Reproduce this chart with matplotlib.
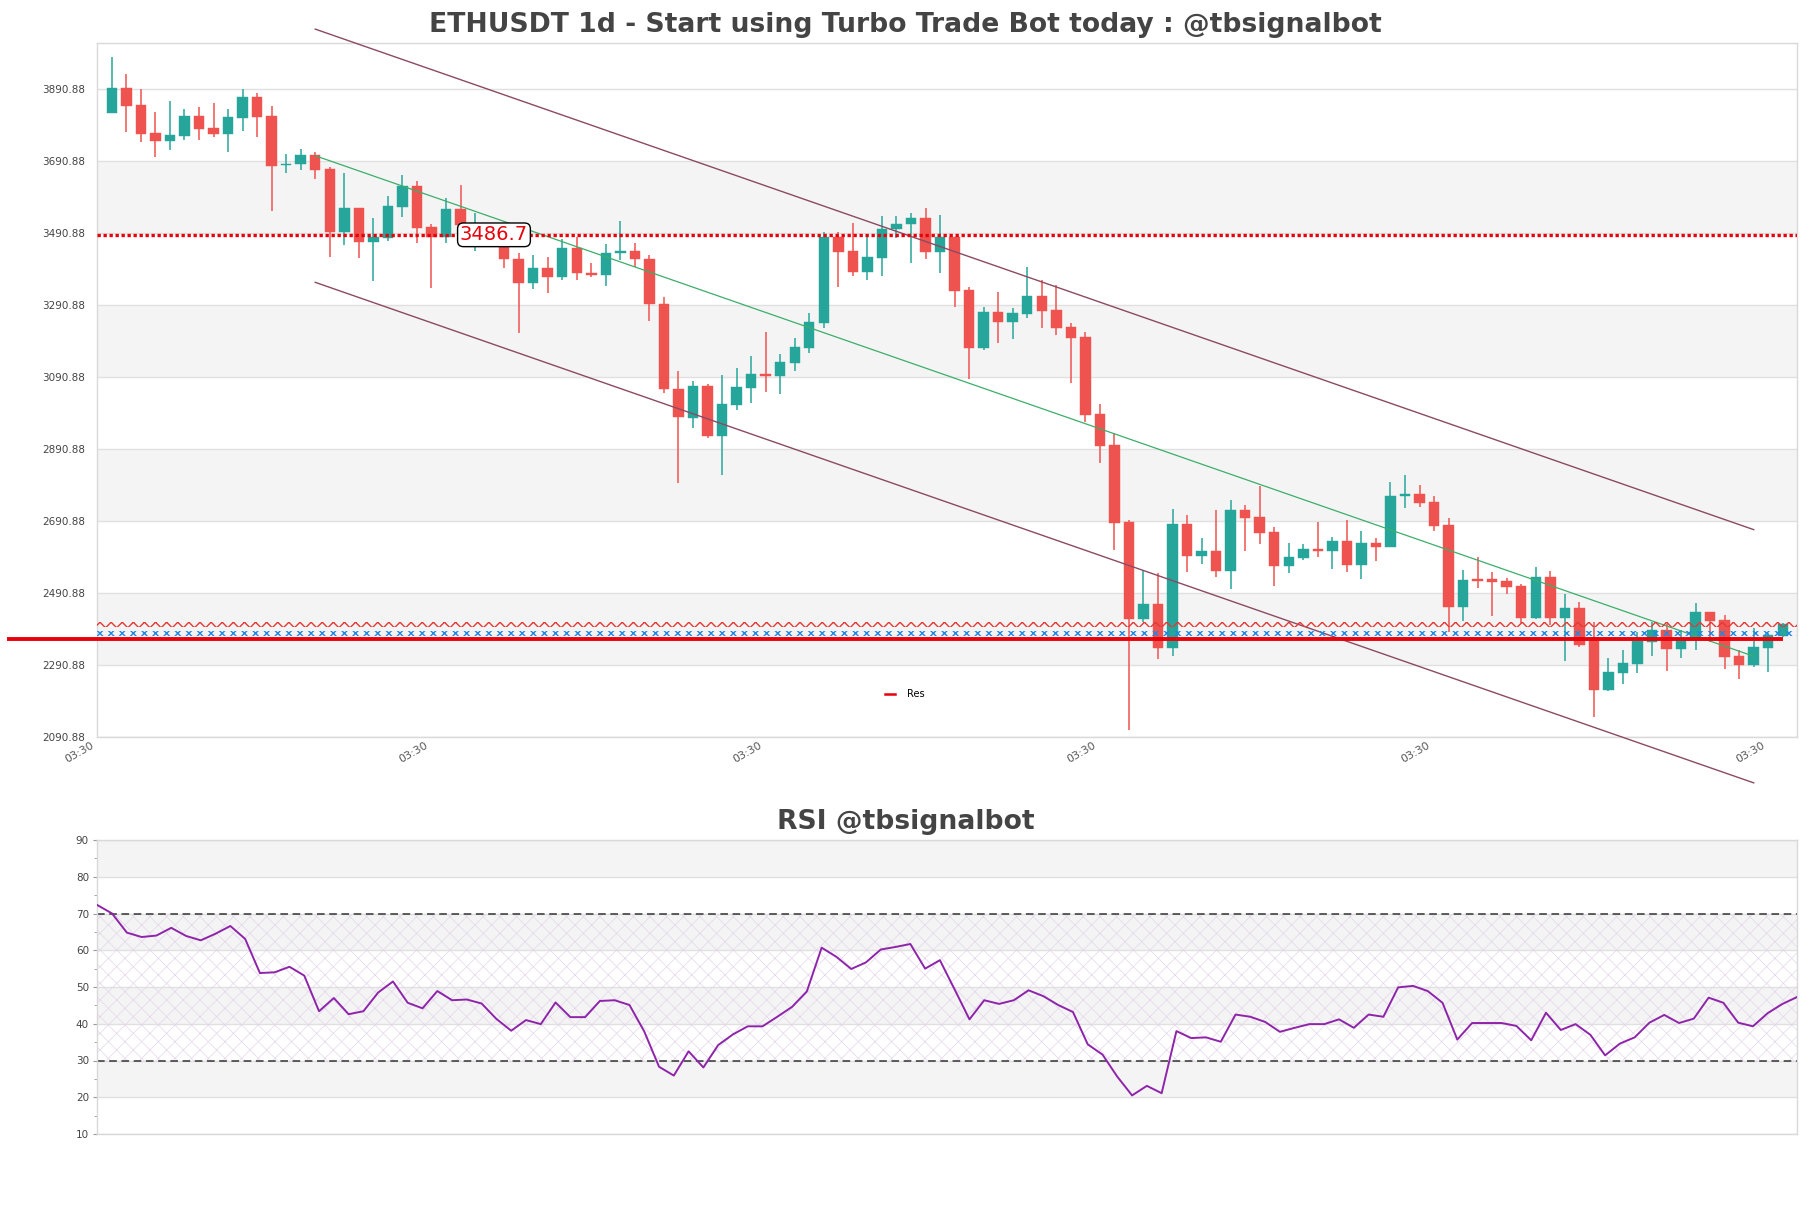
import matplotlib
matplotlib.use("Agg")
import matplotlib.pyplot as plt
from matplotlib.transforms import ScaledTranslation
from matplotlib.lines import Line2D
import numpy as np

# ---------------- data ----------------
opens = [3825.9, 3893.5, 3846.3, 3768.5, 3748.2, 3762.1, 3815.8, 3783.4, 3767.6, 3812.1,
         3868.5, 3815.8, 3679.5, 3682.4, 3707.4, 3669.5, 3495.4, 3560.2, 3467.6, 3478.7,
         3564.9, 3622.3, 3507.5, 3481.5, 3557.5, 3498.0, 3512.0, 3494.0, 3419.5, 3351.9,
         3394.5, 3368.6, 3450.9, 3380.6, 3376.0, 3435.2, 3441.7, 3419.5, 3294.5, 3057.5,
         2978.7, 3065.8, 2927.8, 3013.9, 3062.1, 3100.0, 3095.4, 3131.5, 3173.2, 3242.6,
         3479.6, 3441.7, 3384.3, 3423.2, 3501.9, 3515.8, 3532.4, 3438.0, 3479.6, 3333.3,
         3173.2, 3271.3, 3245.4, 3266.7, 3316.7, 3277.8, 3231.5, 3203.7, 2988.9, 2902.8,
         2688.0, 2418.6, 2461.2, 2339.9, 2683.4, 2595.4, 2608.4, 2553.8, 2722.3, 2703.8,
         2661.2, 2567.7, 2589.9, 2613.0, 2609.3, 2635.3, 2569.5, 2630.6, 2620.5, 2760.3,
         2766.8, 2743.6, 2680.6, 2453.8, 2529.7, 2529.7, 2525.1, 2511.2, 2423.2, 2537.1,
         2423.2, 2451.0, 2365.8, 2222.3, 2270.5, 2294.5, 2356.6, 2389.0, 2337.1, 2361.2,
         2438.0, 2416.7, 2316.7, 2291.7, 2339.9, 2373.2]
highs = [3981.5, 3932.4, 3890.8, 3826.9, 3857.4, 3835.2, 3840.8, 3852.8, 3835.2, 3890.8,
         3879.7, 3843.5, 3710.2, 3725.0, 3715.8, 3675.9, 3657.4, 3560.2, 3532.4, 3594.5,
         3652.8, 3636.2, 3516.7, 3588.0, 3625.0, 3546.0, 3516.0, 3500.0, 3435.2, 3430.6,
         3426.0, 3474.1, 3481.5, 3407.5, 3460.2, 3526.0, 3463.0, 3430.6, 3314.9, 3109.3,
         3080.6, 3072.3, 3097.2, 3115.8, 3150.0, 3215.8, 3155.6, 3199.1, 3268.5, 3493.5,
         3495.4, 3518.5, 3488.0, 3539.8, 3539.0, 3546.3, 3560.2, 3541.7, 3482.0, 3340.8,
         3287.0, 3327.8, 3284.3, 3396.3, 3361.1, 3347.2, 3240.7, 3217.6, 3016.7, 2935.2,
         2694.5, 2555.6, 2548.2, 2724.1, 2708.4, 2643.6, 2722.3, 2750.1, 2736.2, 2789.0,
         2676.0, 2629.7, 2627.8, 2688.0, 2648.2, 2694.5, 2664.0, 2643.6, 2799.2, 2819.5,
         2791.8, 2761.2, 2699.2, 2555.6, 2592.7, 2551.0, 2532.5, 2516.8, 2564.9, 2553.8,
         2489.0, 2467.7, 2410.3, 2310.2, 2333.4, 2384.4, 2412.0, 2405.0, 2389.0, 2464.9,
         2440.0, 2430.6, 2333.4, 2393.6, 2380.0, 2407.0]
lows = [3824.1, 3773.2, 3745.4, 3703.7, 3723.2, 3750.9, 3750.9, 3758.4, 3717.6, 3775.9,
        3759.3, 3553.7, 3657.4, 3665.8, 3640.8, 3426.0, 3459.3, 3423.2, 3359.3, 3470.4,
        3537.1, 3463.0, 3339.9, 3463.0, 3480.0, 3441.0, 3480.0, 3395.0, 3213.0, 3335.2,
        3324.1, 3361.2, 3361.2, 3368.6, 3345.4, 3416.7, 3398.2, 3248.2, 3048.2, 2798.2,
        2950.9, 2921.3, 2820.4, 3000.0, 3020.4, 3050.9, 3043.5, 3109.3, 3159.3, 3228.7,
        3342.6, 3372.2, 3361.1, 3373.2, 3476.9, 3407.4, 3419.5, 3381.5, 3285.2, 3085.2,
        3166.7, 3187.1, 3196.3, 3254.6, 3228.7, 3208.3, 3075.9, 2965.8, 2851.9, 2611.1,
        2111.2, 2412.1, 2307.5, 2316.7, 2549.1, 2572.3, 2537.1, 2502.8, 2609.3, 2627.8,
        2511.2, 2548.2, 2583.4, 2592.7, 2558.4, 2549.1, 2530.6, 2580.6, 2618.6, 2728.8,
        2731.6, 2664.0, 2384.4, 2414.0, 2504.7, 2427.9, 2489.0, 2407.5, 2418.6, 2402.9,
        2303.8, 2342.7, 2148.2, 2220.5, 2238.1, 2270.5, 2316.8, 2276.0, 2312.1, 2333.4,
        2356.0, 2280.6, 2251.9, 2285.2, 2273.2, 2370.0]
closes = [3893.5, 3845.4, 3767.6, 3748.2, 3763.0, 3815.8, 3781.5, 3767.6, 3813.0, 3868.5,
          3814.8, 3678.7, 3683.4, 3707.4, 3667.6, 3495.4, 3560.2, 3467.6, 3479.7, 3566.7,
          3622.3, 3506.5, 3481.5, 3557.5, 3513.9, 3512.0, 3494.0, 3418.6, 3351.9, 3394.5,
          3368.6, 3450.0, 3379.7, 3376.0, 3435.2, 3441.7, 3418.6, 3293.6, 3057.5, 2979.7,
          3065.8, 2927.8, 3016.7, 3063.9, 3100.0, 3095.4, 3132.4, 3174.1, 3243.5, 3479.6,
          3439.8, 3384.3, 3424.1, 3501.9, 3516.7, 3532.4, 3438.0, 3479.6, 3331.5, 3173.2,
          3271.3, 3245.4, 3268.5, 3316.7, 3275.9, 3228.7, 3200.9, 2986.1, 2900.9, 2687.1,
          2418.6, 2461.2, 2339.9, 2683.4, 2595.4, 2608.4, 2553.8, 2722.3, 2701.0, 2659.3,
          2567.7, 2591.7, 2613.0, 2608.4, 2635.3, 2569.5, 2630.6, 2620.4, 2761.2, 2766.8,
          2742.7, 2678.8, 2453.8, 2527.9, 2526.0, 2523.2, 2509.3, 2423.2, 2537.1, 2423.2,
          2451.0, 2347.3, 2222.3, 2273.2, 2298.2, 2358.4, 2389.0, 2337.1, 2361.2, 2438.0,
          2414.9, 2314.9, 2291.7, 2340.8, 2375.1, 2404.7]

rsi = [72.3, 70.0, 64.8, 63.6, 64.0, 66.1, 63.9, 62.7, 64.5, 66.6,
       63.1, 53.8, 54.0, 55.5, 53.1, 43.4, 47.0, 42.6, 43.4, 48.5,
       51.5, 45.7, 44.2, 48.9, 46.4, 46.6, 45.5, 41.3, 38.1, 41.0,
       39.9, 45.8, 41.8, 41.8, 46.2, 46.4, 45.1, 37.9, 28.3, 25.9,
       32.5, 28.1, 34.2, 37.1, 39.3, 39.3, 41.9, 44.6, 48.8, 60.7,
       58.2, 54.9, 56.7, 60.2, 60.9, 61.7, 55.0, 57.3, 49.3, 41.2,
       46.4, 45.4, 46.4, 49.1, 47.5, 45.1, 43.2, 34.4, 31.6, 25.6,
       20.5, 23.1, 21.1, 38.0, 36.1, 36.3, 35.1, 42.5, 41.9, 40.5,
       37.8, 38.9, 39.9, 39.9, 41.2, 38.9, 42.5, 41.9, 49.9, 50.3,
       48.9, 45.7, 35.7, 40.2, 40.2, 40.2, 39.4, 35.5, 43.0, 38.3,
       39.9, 37.0, 31.4, 34.6, 36.3, 40.3, 42.4, 40.2, 41.4, 47.1,
       45.7, 40.3, 39.3, 42.9, 45.4, 47.3]

# levels / channel
res_level = 2363.0
res_span_x = [-7.2, 115]
dotted_level = 3486.7
dotted_label = "3486.7"
dotted_label_x = 26.3
red_zone = [2398.0, 2411.0]
blue_zone = [2372.0, 2385.0]
channel_x = [14, 113]
channel_mid = [3706.4, 2316.0]
channel_offset = 351.7

ytick_vals = [2090.88 + 200 * k for k in range(10)]
xtick_pos = [-1, 22, 45, 68, 91, 114]
xtick_labels = ["03:30"] * 6
rsi_ticks = [10, 20, 30, 40, 50, 60, 70, 80, 90]

title = "ETHUSDT 1d - Start using Turbo Trade Bot today : @tbsignalbot"
rsi_title = "RSI @tbsignalbot"

# ---------------- figure ----------------
W, H = 1811, 1208
fig = plt.figure(figsize=(W / 100, H / 100), dpi=100)
fig.patch.set_facecolor("white")

ax = fig.add_axes([97.3 / W, 1 - 737.3 / H, 1700 / W, (737.3 - 43.3) / H])
ax2 = fig.add_axes([97.3 / W, 1 - 1134 / H, 1700 / W, (1134 - 840) / H])

GREEN = "#26a69a"
RED = "#ef5350"
SPINE = "#d9d9d9"
GRID = "#e0e0e0"
BAND = "#f4f4f4"

n = len(opens)
xs = np.arange(n)
o = np.array(opens); c = np.array(closes); h = np.array(highs); l = np.array(lows)
up = c >= o
cols = np.where(up, GREEN, RED)

# background bands
for lo_, hi_ in [(2290.88, 2490.88), (2690.88, 2890.88), (3090.88, 3290.88), (3490.88, 3690.88)]:
    ax.axhspan(lo_, hi_, color=BAND, zorder=0, lw=0)
for yv in ytick_vals:
    ax.axhline(yv, color=GRID, lw=1.0, zorder=0.5)

# candles
ax.vlines(xs, l, h, colors=cols, lw=1.1, zorder=2)
body_lo = np.minimum(o, c)
body_h = np.maximum(np.abs(c - o), 3.0)
ax.bar(xs, body_h, bottom=body_lo, width=0.72, color=cols, edgecolor=cols, lw=0.3, zorder=3)

# channel
cx = np.array(channel_x, dtype=float)
cm = np.array(channel_mid)
ax.plot(cx, cm, color="#3cae6a", lw=0.9, zorder=4, clip_on=False)
ax.plot(cx, cm + channel_offset, color="#8b4a62", lw=1.0, zorder=4, clip_on=False)
ax.plot(cx, cm - channel_offset, color="#8b4a62", lw=1.0, zorder=4, clip_on=False)

# dotted resistance
ax.axhline(dotted_level, color="#e8000b", lw=2.4, ls=(0, (1, 0.8)), zorder=5)
ax.text(dotted_label_x, dotted_level, dotted_label, color="#e8000b", fontsize=14,
        ha="center", va="center", zorder=7,
        bbox=dict(boxstyle="round,pad=0.12,rounding_size=0.3", fc="white", ec="black", lw=1.0))

# hatched zones
plt.rcParams["hatch.linewidth"] = 1.0
ax.fill_between([-1, 116], red_zone[0], red_zone[1], facecolor="none", edgecolor="#e53935",
                hatch="xxx", lw=0, zorder=5)
ax.fill_between([-1, 116], blue_zone[0], blue_zone[1], facecolor="none", edgecolor="#1e88e5",
                hatch="xxx", lw=0, zorder=5)

# Res line
ax.plot(res_span_x, [res_level, res_level], color="#e8000b", lw=2.8, zorder=6,
        clip_on=False, solid_capstyle="butt")

ax.set_xlim(-1, 116)
ax.set_ylim(2090.88, 4018.7)
ax.set_yticks(ytick_vals)
ax.set_yticklabels(["%.2f" % v for v in ytick_vals])
ax.set_xticks(xtick_pos)
ax.set_xticklabels(xtick_labels, rotation=30, ha="right", rotation_mode="anchor")
ax.tick_params(axis="y", length=0, pad=9, labelsize=7.5, labelcolor="#444444")
ax.tick_params(axis="x", length=0, pad=2, labelsize=8, labelcolor="#555555")
for lbl in ax.get_xticklabels():
    lbl.set_transform(lbl.get_transform() + ScaledTranslation(-5 / 72, 0, fig.dpi_scale_trans))
for s in ax.spines.values():
    s.set_color(SPINE)
    s.set_linewidth(1.0)
ax.set_facecolor("white")
handle = Line2D([], [], color="#e8000b", lw=1.8)
ax.legend([handle], ["Res"], loc="center", bbox_to_anchor=(0.475, 0.0625), frameon=False,
          fontsize=7, handlelength=1.0, handletextpad=1.2)

# ---------------- RSI ----------------
for lo_, hi_ in [(20, 30), (40, 50), (60, 70), (80, 90)]:
    ax2.axhspan(lo_, hi_, color=BAND, zorder=0, lw=0)
for yv in rsi_ticks:
    ax2.axhline(yv, color=GRID, lw=1.0, zorder=0.5)
plt.rcParams["hatch.linewidth"] = 0.5
ax2.fill_between([0, 115], 30, 70, facecolor="none", edgecolor="#e4d6ea", hatch="xx", lw=0, zorder=1)
ax2.axhline(70, color="#333333", lw=1.1, ls=(0, (5, 3)), zorder=2)
ax2.axhline(30, color="#333333", lw=1.1, ls=(0, (5, 3)), zorder=2)
ax2.plot(np.arange(len(rsi)), rsi, color="#8e24aa", lw=1.4, zorder=3)
ax2.set_xlim(0, len(rsi) - 1)
ax2.set_ylim(10, 90)
ax2.set_yticks(rsi_ticks)
ax2.set_yticks([15, 25, 35, 45, 55, 65, 75, 85], minor=True)
ax2.set_xticks([])
ax2.tick_params(axis="y", which="major", length=3, pad=3, labelsize=7.5, labelcolor="#444444", color="#999999")
ax2.tick_params(axis="y", which="minor", length=2, color="#999999")
for s in ax2.spines.values():
    s.set_color(SPINE)
    s.set_linewidth(1.0)

# titles
fig.text(0.5, 1 - 25 / H, title, ha="center", va="center", fontsize=19.2, fontweight="bold", color="#444444")
fig.text(0.5, 1 - 822 / H, rsi_title, ha="center", va="center", fontsize=19.2, fontweight="bold", color="#444444")

fig.savefig("out.png", dpi=100, facecolor="white")
